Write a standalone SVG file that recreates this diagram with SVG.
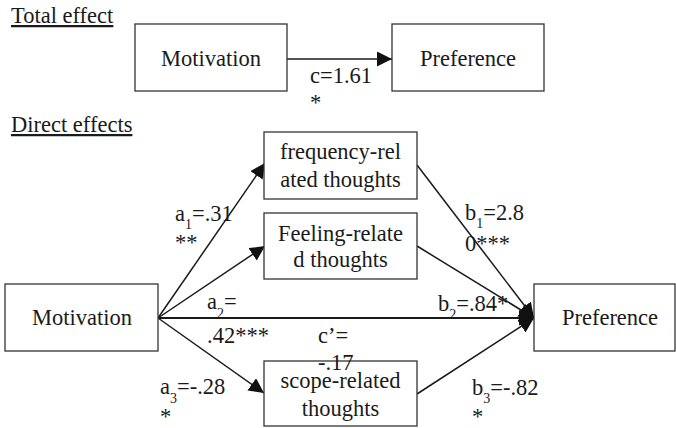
<svg xmlns="http://www.w3.org/2000/svg" width="676" height="428" viewBox="0 0 676 428">
<style>
text{font-family:"Liberation Serif","Tinos","Times New Roman","DejaVu Serif",serif;font-size:22.5px;fill:#1a1a1a}
.c{text-anchor:middle}
.s{font-size:14px}
.box{fill:#fff;stroke:#333;stroke-width:1.3}
.ln{stroke:#1a1a1a;stroke-width:1.5;fill:none}
.u{text-decoration:underline}
</style>
<defs>
<marker id="ah" markerUnits="userSpaceOnUse" markerWidth="16" markerHeight="16" refX="15" refY="7.5" orient="auto">
<path d="M0,0 L15,7.5 L0,15 Z" fill="#111"/>
</marker>
</defs>
<text class="u" x="11" y="23">Total effect</text>
<text class="u" x="11" y="132">Direct effects</text>
<g id="connectors">
<line class="ln" x1="287" y1="59" x2="392" y2="59" marker-end="url(#ah)"/>
<line class="ln" x1="158" y1="318" x2="265" y2="163" marker-end="url(#ah)"/>
<line class="ln" x1="158" y1="318" x2="265" y2="246" marker-end="url(#ah)"/>
<line class="ln" x1="158" y1="318" x2="264" y2="393" marker-end="url(#ah)"/>
<line class="ln" style="stroke-width:2" x1="158" y1="318" x2="534" y2="318" marker-end="url(#ah)"/>
<line class="ln" x1="417" y1="165" x2="534" y2="318" marker-end="url(#ah)"/>
<line class="ln" x1="417" y1="246" x2="534" y2="318" marker-end="url(#ah)"/>
<line class="ln" x1="417" y1="394" x2="534" y2="318" marker-end="url(#ah)"/>
</g>
<g id="motivation-total"><rect class="box" x="135" y="24" width="152" height="67"/><text class="c" x="211" y="66">Motivation</text></g>
<g id="preference-total"><rect class="box" x="392" y="24" width="152" height="67"/><text class="c" x="468" y="66">Preference</text></g>
<g id="motivation"><rect class="box" x="5" y="284" width="153" height="67"/><text class="c" x="82" y="325">Motivation</text></g>
<g id="preference"><rect class="box" x="534" y="284" width="141" height="67"/><text class="c" x="610" y="325">Preference</text></g>
<g id="frequency"><rect class="box" x="264" y="132" width="153" height="67"/><text class="c" x="340.5" y="159">frequency-rel</text><text class="c" x="340.5" y="187">ated thoughts</text></g>
<g id="feeling"><rect class="box" x="264" y="213" width="153" height="66"/><text class="c" x="340.5" y="241">Feeling-relate</text><text class="c" x="340.5" y="267">d thoughts</text></g>
<g id="scope"><rect class="box" x="264" y="361" width="153" height="65"/><text class="c" x="340.5" y="388">scope-related</text><text class="c" x="340.5" y="416">thoughts</text></g>
<g id="labels">
<text x="310" y="83">c=1.61</text><text x="310" y="110">*</text>
<text x="175" y="221">a<tspan class="s" dy="8">1</tspan><tspan dy="-8">=.31</tspan></text><text x="175" y="250">**</text>
<text x="465" y="220">b<tspan class="s" dy="8">1</tspan><tspan dy="-8">=2.8</tspan></text><text x="465" y="251">0***</text>
<text x="207" y="309">a<tspan class="s" dy="9">2</tspan><tspan dy="-9">=</tspan></text><text x="207" y="343">.42***</text>
<text x="318" y="343">c’=</text><text x="318" y="370">-.17</text>
<text x="438" y="311">b<tspan class="s" dy="8">2</tspan><tspan dy="-8">=.84*</tspan></text>
<text x="160" y="394">a<tspan class="s" dy="9">3</tspan><tspan dy="-9">=-.28</tspan></text><text x="160" y="424">*</text>
<text x="472" y="395">b<tspan class="s" dy="8">3</tspan><tspan dy="-8">=-.82</tspan></text><text x="472" y="424">*</text>
</g>
</svg>
